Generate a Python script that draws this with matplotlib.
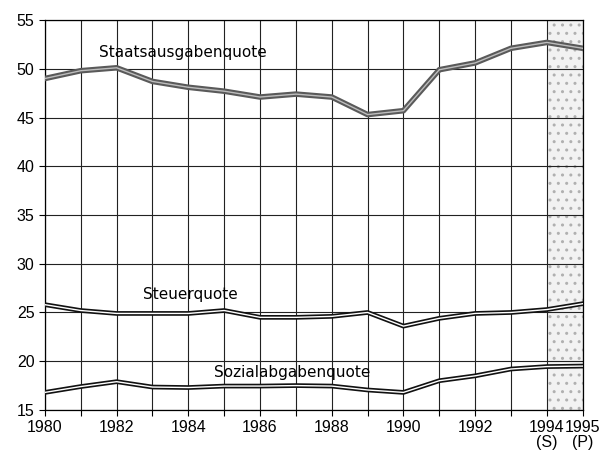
import numpy as np
import matplotlib.pyplot as plt

plt.rcParams['font.family'] = ['DejaVu Sans']

jahre = list(range(1980, 1996))
staatsausgaben = [49.0, 49.8, 50.1, 48.7, 48.1, 47.7, 47.1, 47.4, 47.1, 45.3, 45.7, 49.9, 50.6, 52.1, 52.7, 52.1]
steuer = [25.8, 25.2, 24.9, 24.9, 24.9, 25.2, 24.5, 24.5, 24.6, 25.0, 23.6, 24.4, 24.9, 25.0, 25.3, 25.9]
sozialabgaben = [16.8, 17.4, 17.9, 17.35, 17.3, 17.45, 17.45, 17.5, 17.45, 17.05, 16.8, 18.0, 18.5, 19.2, 19.45, 19.5]

xtick_pos = [1980, 1982, 1984, 1986, 1988, 1990, 1992, 1994, 1995]
xtick_lab = ['1980', '1982', '1984', '1986', '1988', '1990', '1992', '1994\n(S)', '1995\n(P)']
yticks = [15, 20, 25, 30, 35, 40, 45, 50, 55]


def main():
    fig = plt.figure(figsize=(6.07, 4.55), dpi=100)
    ax = fig.add_axes([0.074, 0.099, 0.886, 0.857])

    # geschaetzter / prognostizierter Bereich
    plt.rcParams['hatch.color'] = '#b0b0b0'
    ax.axvspan(1994, 1995, facecolor='#f2f2f2', edgecolor='#b0b0b0',
               hatch='..', linewidth=0, zorder=0)

    for x in jahre:
        ax.axvline(x, color='#222222', lw=0.8, zorder=1)
    for y in yticks:
        ax.axhline(y, color='#222222', lw=0.8, zorder=1)

    # Doppellinien
    ax.plot(jahre, staatsausgaben, color='#5a5a5a', lw=4.0, zorder=3)
    ax.plot(jahre, staatsausgaben, color='#bdbdbd', lw=1.0, zorder=4)
    for serie in (steuer, sozialabgaben):
        ax.plot(jahre, serie, color='#111111', lw=3.4, zorder=3)
        ax.plot(jahre, serie, color='white', lw=1.0, zorder=4)

    ax.text(1981.5, 51.7, 'Staatsausgabenquote', fontsize=11,
            ha='left', va='center', zorder=5)
    ax.text(1984.07, 26.8, 'Steuerquote', fontsize=11,
            ha='center', va='center', zorder=5)
    ax.text(1986.9, 18.8, 'Sozialabgabenquote', fontsize=11,
            ha='center', va='center', zorder=5)

    ax.set_xlim(1980, 1995)
    ax.set_ylim(15, 55)
    ax.set_xticks(xtick_pos)
    ax.set_xticklabels(xtick_lab, linespacing=1.0, family='Liberation Sans')
    ax.set_xticks(jahre, minor=True)
    ax.set_yticks(yticks)
    ax.set_yticklabels([str(v) for v in yticks], family='Liberation Sans')
    ax.tick_params(axis='both', labelsize=11.5, length=4, width=0.8, direction='out')
    ax.tick_params(axis='x', which='minor', length=4, width=0.8)
    for s in ax.spines.values():
        s.set_linewidth(0.9)

    fig.savefig('out.png', dpi=100)


if __name__ == "__main__":
    main()
